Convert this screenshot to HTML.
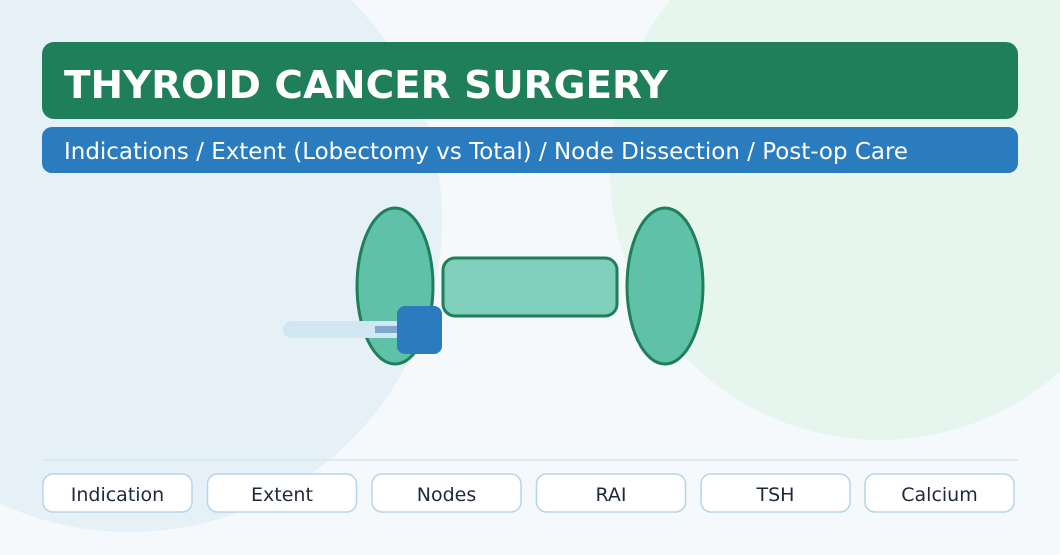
<!DOCTYPE html>
<html><head><meta charset="utf-8"><style>
html,body{margin:0;padding:0;background:#f5f9fb;}
svg{display:block;font-family:"DejaVu Sans","Liberation Sans",sans-serif;}
</style></head><body>
<svg width="1060" height="555" viewBox="0 0 1060 555">
<rect width="1060" height="555" fill="#f5f9fb"/>
<circle cx="130" cy="220" r="312" fill="#e6f0f7"/>
<circle cx="880" cy="170" r="270" fill="#e6f5ee"/>
<rect x="42" y="42" width="976" height="77" rx="12" fill="#1f7f5a"/>
<text x="64" y="98" font-size="38" font-weight="bold" fill="#fff" textLength="604" lengthAdjust="spacingAndGlyphs">THYROID CANCER SURGERY</text>
<rect x="42" y="127" width="976" height="46" rx="10" fill="#2b7bbf"/>
<text x="64" y="159" font-size="22.8" fill="#fff" textLength="844" lengthAdjust="spacingAndGlyphs">Indications / Extent (Lobectomy vs Total) / Node Dissection / Post-op Care</text>
<ellipse cx="395" cy="286" rx="38" ry="78" fill="#5ec1a8" stroke="#1f7f5a" stroke-width="3"/>
<ellipse cx="665" cy="286" rx="38" ry="78" fill="#5ec1a8" stroke="#1f7f5a" stroke-width="3"/>
<rect x="443" y="258" width="174" height="58" rx="12" fill="#7fcfbc" stroke="#1f7f5a" stroke-width="3"/>
<rect x="283" y="321" width="120" height="17" rx="8.5" fill="#d0e6f3"/>
<rect x="375" y="326" width="25" height="7" fill="#7fa8cf"/>
<rect x="397" y="306" width="45" height="48" rx="8" fill="#2b7bbf"/>
<line x1="42" y1="460" x2="1018" y2="460" stroke="#dde9f1" stroke-width="2"/>
<g font-size="19" fill="#1e293b" text-anchor="middle">
<rect x="43" y="474" width="149" height="38" rx="10" fill="#fff" stroke="#b5d5ea" stroke-width="1.5"/><text x="117.5" y="501">Indication</text>
<rect x="207.5" y="474" width="149" height="38" rx="10" fill="#fff" stroke="#b5d5ea" stroke-width="1.5"/><text x="282" y="501">Extent</text>
<rect x="372" y="474" width="149" height="38" rx="10" fill="#fff" stroke="#b5d5ea" stroke-width="1.5"/><text x="446.5" y="501">Nodes</text>
<rect x="536.5" y="474" width="149" height="38" rx="10" fill="#fff" stroke="#b5d5ea" stroke-width="1.5"/><text x="611" y="501">RAI</text>
<rect x="701" y="474" width="149" height="38" rx="10" fill="#fff" stroke="#b5d5ea" stroke-width="1.5"/><text x="775.5" y="501">TSH</text>
<rect x="865" y="474" width="149" height="38" rx="10" fill="#fff" stroke="#b5d5ea" stroke-width="1.5"/><text x="939.5" y="501">Calcium</text>
</g>
</svg>
</body></html>
